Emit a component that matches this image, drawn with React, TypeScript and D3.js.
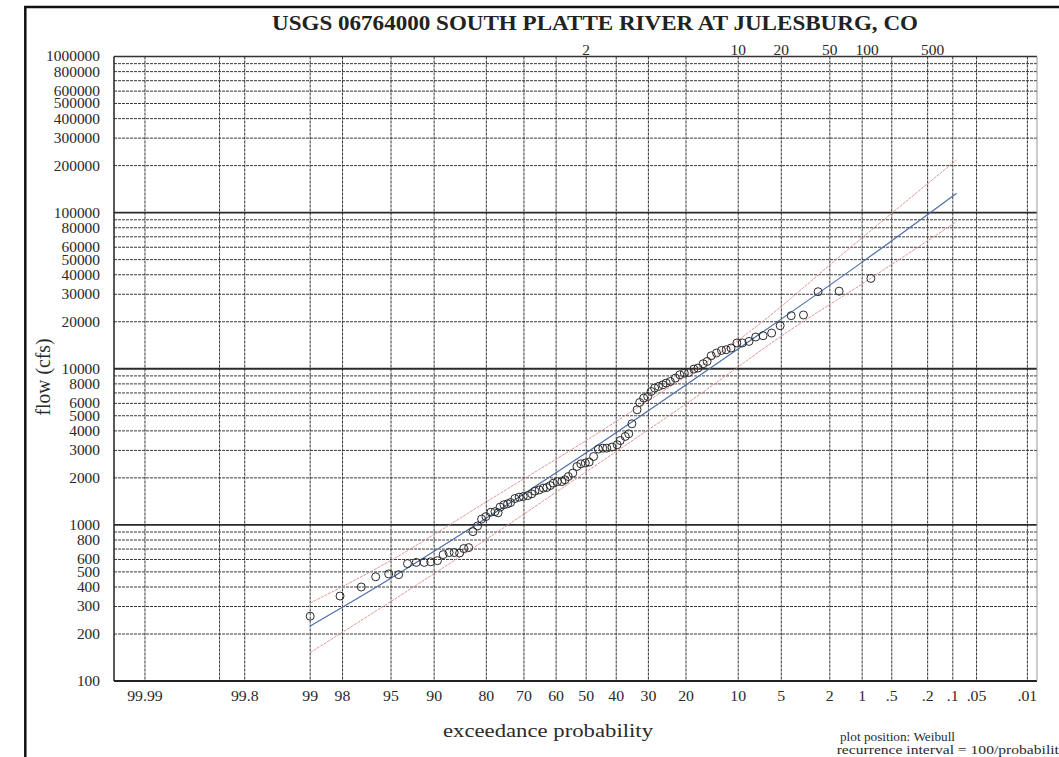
import React, { useRef, useEffect } from 'react';
import * as d3 from 'd3';

const chartTitle = 'USGS 06764000 SOUTH PLATTE RIVER AT JULESBURG, CO';

// exceedance probability gridlines (%), left to right
const probGrid = [99.99, 99.9, 99.8, 99, 98, 95, 90, 80, 70, 60, 50, 40, 30, 20, 10, 5, 2, 1, 0.5, 0.2, 0.1, 0.05, 0.01];
const probTicks = [99.99, 99.8, 99, 98, 95, 90, 80, 70, 60, 50, 40, 30, 20, 10, 5, 2, 1, 0.5, 0.2, 0.1, 0.05, 0.01];
// recurrence interval labels along the top (years)
const recurrenceTicks = [2, 10, 20, 50, 100, 500];

// flow gridlines / labels
const flowDecades = [100, 1000, 10000, 100000];
const flowGridMultiples = [2, 3, 4, 5, 6, 7, 8, 9];
const flowLabelMultiples = [1, 2, 3, 4, 5, 6, 8];

// observed annual peaks: exceedance (%) and flow (cfs)
const pointExceedance = [
  99.0, 98.1, 97.1, 96.2, 95.2, 94.3, 93.4, 92.4, 91.4, 90.5,
  89.5, 88.6, 87.6, 86.7, 85.7, 84.9, 83.9, 83.0, 82.0, 81.1,
  80.1, 78.9, 77.9, 77.1, 76.6, 75.6, 74.6, 73.8, 72.6, 71.4,
  70.2, 68.9, 67.7, 66.7, 65.4, 64.1, 63.0, 61.9, 60.9, 59.6,
  58.1, 57.1, 56.0, 54.5, 53.1, 51.8, 50.3, 49.0, 47.5, 45.9,
  44.4, 43.1, 41.4, 39.7, 38.7, 37.1, 36.0, 35.0, 33.4, 32.6,
  31.4, 30.2, 29.2, 28.2, 27.1, 25.9, 25.0, 23.9, 22.6, 21.5,
  20.4, 19.4, 18.2, 17.3, 16.2, 15.4, 14.6, 13.6, 12.7, 11.9,
  11.1, 10.2, 9.4, 8.5, 7.65, 6.8, 5.9, 5.1, 4.2, 3.35,
  2.53, 1.65, 0.82,
];
const pointFlow = [
  260, 350, 400, 465, 485, 480, 565, 575, 575, 580,
  590, 645, 665, 665, 660, 705, 715, 905, 985, 1090,
  1130, 1205, 1215, 1195, 1300, 1345, 1365, 1390, 1475, 1505,
  1520, 1540, 1580, 1645, 1675, 1720, 1735, 1785, 1850, 1890,
  1895, 1945, 2040, 2145, 2365, 2460, 2490, 2525, 2740, 3060,
  3100, 3100, 3150, 3260, 3470, 3685, 3830, 4440, 5460, 6080,
  6490, 6640, 7150, 7520, 7700, 7890, 8100, 8290, 8720, 9150,
  9380, 9460, 9950, 10100, 10770, 11140, 12110, 12610, 13100, 13240,
  13580, 14620, 14620, 14960, 15970, 16280, 16930, 18870, 21870, 22100,
  31150, 31400, 37900,
];

// fitted frequency curve and confidence limits
const fitExceedance = [99, 95.9, 87.1, 48.1, 16.8, 1.04, 0.09];
const fitFlow = [225, 412, 800, 3060, 9120, 47300, 133000];
const upperExceedance = [99, 95.9, 78.3, 39.3, 7.1, 1.4, 0.09];
const upperFlow = [316, 540, 1497, 4700, 19540, 57200, 217400];
const lowerExceedance = [99, 87.1, 48.1, 16.8, 4.27, 1.04, 0.09];
const lowerFlow = [152, 578, 2313, 6890, 17700, 34400, 87500];

// inverse standard normal cdf (Acklam)
function probit(p: number) {
  const a = [-39.69683028665376, 220.9460984245205, -275.9285104469687, 138.357751867269, -30.66479806614716, 2.506628277459239];
  const b = [-54.47609879822406, 161.5858368580409, -155.6989798598866, 66.80131188771972, -13.28068155288572];
  const c = [-0.007784894002430293, -0.3223964580411365, -2.400758277161838, -2.549671010115818, 4.374664141464968, 2.938163982698783];
  const d = [0.007784695709041462, 0.3224671290700398, 2.445134137142996, 3.754408661907416];
  const plow = 0.02425;
  if (p < plow) {
    const q = Math.sqrt(-2 * Math.log(p));
    return (((((c[0] * q + c[1]) * q + c[2]) * q + c[3]) * q + c[4]) * q + c[5]) / ((((d[0] * q + d[1]) * q + d[2]) * q + d[3]) * q + 1);
  }
  if (p <= 1 - plow) {
    const q = p - 0.5;
    const r = q * q;
    return ((((((a[0] * r + a[1]) * r + a[2]) * r + a[3]) * r + a[4]) * r + a[5]) * q) / (((((b[0] * r + b[1]) * r + b[2]) * r + b[3]) * r + b[4]) * r + 1);
  }
  const q = Math.sqrt(-2 * Math.log(1 - p));
  return -(((((c[0] * q + c[1]) * q + c[2]) * q + c[3]) * q + c[4]) * q + c[5]) / ((((d[0] * q + d[1]) * q + d[2]) * q + d[3]) * q + 1);
}

const zOf = (exceed: number) => probit(1 - exceed / 100);

const fmtProb = (p: number) => (p < 1 ? String(p).replace(/^0/, '') : String(p));
const numWidth = (s: string, w: number) => [...s].reduce((acc, ch) => acc + (ch === '.' ? w * 0.5 : w), 0);

const FONT = '"Liberation Serif", "Times New Roman", serif';

const App = () => {
  const svgRef = useRef<SVGSVGElement>(null);

  useEffect(() => {
    const width = 1059;
    const height = 757;
    const plot = { left: 114, right: 1037, top: 56.5, bottom: 681 };

    const svg = d3.select(svgRef.current);
    svg.selectAll('*').remove();

    const x = d3.scaleLinear().domain([-3.98, 3.8]).range([plot.left, plot.right]);
    const px = (e: number) => x(zOf(e));
    const y = d3.scaleLog().domain([100, 1e6]).range([plot.bottom, plot.top]);

    svg.append('rect').attr('width', width).attr('height', height).attr('fill', '#fff');

    // outer frame (cropped at right/bottom)
    svg
      .append('rect')
      .attr('x', 25.3)
      .attr('y', 7)
      .attr('width', 1200)
      .attr('height', 900)
      .attr('fill', 'none')
      .attr('stroke', '#111')
      .attr('stroke-width', 2.5);

    svg
      .append('text')
      .attr('x', 595)
      .attr('y', 30)
      .attr('text-anchor', 'middle')
      .attr('font-family', FONT)
      .attr('font-weight', 'bold')
      .attr('font-size', 20.5)
      .attr('fill', '#222')
      .attr('textLength', 646)
      .attr('lengthAdjust', 'spacingAndGlyphs')
      .text(chartTitle);

    const grid = svg.append('g');

    // minor horizontal gridlines
    const minorFlows = flowDecades.flatMap(dec => flowGridMultiples.map(m => dec * m));
    grid
      .selectAll('.hminor')
      .data(minorFlows)
      .join('line')
      .attr('x1', plot.left)
      .attr('x2', plot.right)
      .attr('y1', d => y(d))
      .attr('y2', d => y(d))
      .attr('stroke', '#3a3a3a')
      .attr('stroke-width', 1)
      .attr('stroke-dasharray', '3,1');

    // vertical probability gridlines
    grid
      .selectAll('.vline')
      .data(probGrid)
      .join('line')
      .attr('x1', d => px(d))
      .attr('x2', d => px(d))
      .attr('y1', plot.top)
      .attr('y2', plot.bottom)
      .attr('stroke', '#333')
      .attr('stroke-width', 1)
      .attr('stroke-dasharray', '3,1');

    // decade lines
    grid
      .selectAll('.hmajor')
      .data(flowDecades.slice(1))
      .join('line')
      .attr('x1', plot.left)
      .attr('x2', plot.right)
      .attr('y1', d => y(d))
      .attr('y2', d => y(d))
      .attr('stroke', '#2a2a2a')
      .attr('stroke-width', 1.8);

    // plot borders
    grid.append('line').attr('x1', plot.left).attr('x2', plot.right).attr('y1', plot.top).attr('y2', plot.top)
      .attr('stroke', '#333').attr('stroke-width', 1.3);
    grid.append('line').attr('x1', plot.left).attr('x2', plot.right).attr('y1', plot.bottom).attr('y2', plot.bottom)
      .attr('stroke', '#222').attr('stroke-width', 2);
    grid.append('line').attr('x1', plot.left).attr('x2', plot.left).attr('y1', plot.top).attr('y2', plot.bottom)
      .attr('stroke', '#222').attr('stroke-width', 1.5);
    grid.append('line').attr('x1', plot.right).attr('x2', plot.right).attr('y1', plot.top).attr('y2', plot.bottom)
      .attr('stroke', '#999').attr('stroke-width', 1);

    // y tick labels
    const flowLabels = [...flowDecades.flatMap(dec => flowLabelMultiples.map(m => dec * m)), 1e6];
    svg
      .append('g')
      .selectAll('text')
      .data(flowLabels)
      .join('text')
      .attr('x', 100)
      .attr('y', d => y(d))
      .attr('dy', '0.35em')
      .attr('text-anchor', 'end')
      .attr('font-family', FONT)
      .attr('font-size', 14)
      .attr('fill', '#2a2a2a')
      .attr('textLength', d => numWidth(String(d), 7.7))
      .attr('lengthAdjust', 'spacingAndGlyphs')
      .text(d => String(d));

    // x tick labels
    svg
      .append('g')
      .selectAll('text')
      .data(probTicks)
      .join('text')
      .attr('x', d => px(d))
      .attr('y', 700.5)
      .attr('text-anchor', 'middle')
      .attr('font-family', FONT)
      .attr('font-size', 14.5)
      .attr('fill', '#2a2a2a')
      .attr('textLength', d => numWidth(fmtProb(d), 7.9))
      .attr('lengthAdjust', 'spacingAndGlyphs')
      .text(d => fmtProb(d));

    // recurrence interval labels
    svg
      .append('g')
      .selectAll('text')
      .data(recurrenceTicks)
      .join('text')
      .attr('x', d => px(100 / d) + (d >= 100 ? 5 : 0))
      .attr('y', 54.5)
      .attr('text-anchor', 'middle')
      .attr('font-family', FONT)
      .attr('font-size', 14)
      .attr('fill', '#2a2a2a')
      .attr('textLength', d => numWidth(String(d), 7.7))
      .attr('lengthAdjust', 'spacingAndGlyphs')
      .text(d => String(d));

    // axis titles
    svg
      .append('text')
      .attr('transform', 'translate(50,377) rotate(-90)')
      .attr('text-anchor', 'middle')
      .attr('font-family', FONT)
      .attr('font-size', 20)
      .attr('fill', '#2a2a2a')
      .attr('textLength', 77)
      .attr('lengthAdjust', 'spacingAndGlyphs')
      .text('flow (cfs)');

    svg
      .append('text')
      .attr('x', 548)
      .attr('y', 737)
      .attr('text-anchor', 'middle')
      .attr('font-family', FONT)
      .attr('font-size', 18)
      .attr('fill', '#2a2a2a')
      .attr('textLength', 210)
      .attr('lengthAdjust', 'spacingAndGlyphs')
      .text('exceedance probability');

    svg
      .append('text')
      .attr('x', 840)
      .attr('y', 741)
      .attr('font-family', FONT)
      .attr('font-size', 11.5)
      .attr('fill', '#2a2a2a')
      .attr('textLength', 115)
      .attr('lengthAdjust', 'spacingAndGlyphs')
      .text('plot position: Weibull');

    svg
      .append('text')
      .attr('x', 836.7)
      .attr('y', 753.5)
      .attr('font-family', FONT)
      .attr('font-size', 11.5)
      .attr('fill', '#2a2a2a')
      .attr('textLength', 230)
      .attr('lengthAdjust', 'spacingAndGlyphs')
      .text('recurrence interval = 100/probability');

    // fitted curve and confidence limits
    const line = d3
      .line<[number, number]>()
      .x(d => px(d[0]))
      .y(d => y(d[1]))
      .curve(d3.curveMonotoneX);

    const curves = [
      { pts: upperExceedance.map((e, i) => [e, upperFlow[i]] as [number, number]), color: '#e49595', w: 1, dash: '3,1' },
      { pts: lowerExceedance.map((e, i) => [e, lowerFlow[i]] as [number, number]), color: '#e49595', w: 1, dash: '3,1' },
      { pts: fitExceedance.map((e, i) => [e, fitFlow[i]] as [number, number]), color: '#4d6ea8', w: 1.2, dash: null },
    ];

    svg
      .append('g')
      .selectAll('path')
      .data(curves)
      .join('path')
      .attr('d', d => line(d.pts))
      .attr('fill', 'none')
      .attr('stroke', d => d.color)
      .attr('stroke-width', d => d.w)
      .attr('stroke-dasharray', d => d.dash);

    // observed points
    svg
      .append('g')
      .selectAll('circle')
      .data(pointExceedance.map((e, i) => [e, pointFlow[i]]))
      .join('circle')
      .attr('cx', d => px(d[0]))
      .attr('cy', d => y(d[1]))
      .attr('r', 4)
      .attr('fill', 'none')
      .attr('stroke', '#2a2a2a')
      .attr('stroke-width', 1);
  }, []);

  return (
    <svg
      ref={svgRef}
      width={1059}
      height={757}
      style={{ position: 'absolute', left: 0, top: 0, display: 'block' }}
    ></svg>
  );
};

export default App;
